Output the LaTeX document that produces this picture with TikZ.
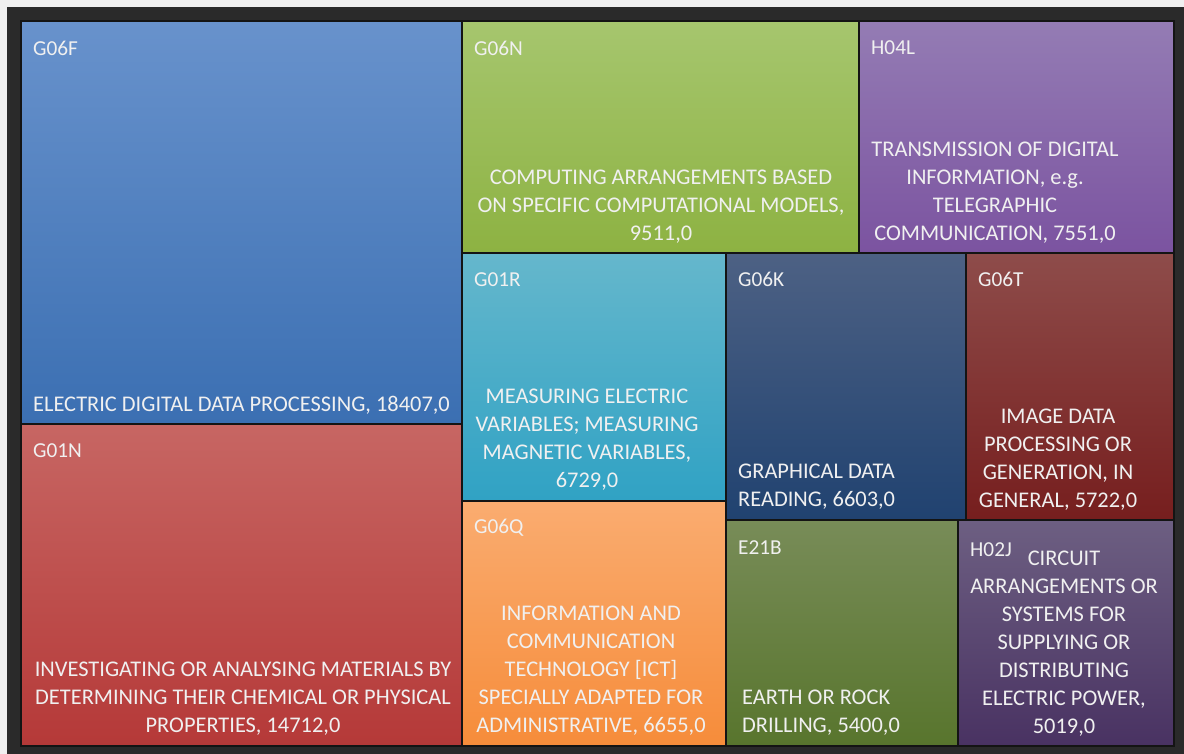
\documentclass[tikz,border=0pt]{standalone}
\usepackage{fontspec}
\setmainfont{Carlito}
\definecolor{lightbg}{RGB}{240,240,240}
\definecolor{framebg}{RGB}{42,42,42}
\definecolor{txt}{RGB}{240,240,240}
\definecolor{edge}{RGB}{20,20,20}
\definecolor{fT}{RGB}{104,146,204}\definecolor{fB}{RGB}{59,111,178}
\definecolor{nT}{RGB}{199,102,99}\definecolor{nB}{RGB}{181,57,56}
\definecolor{gnT}{RGB}{166,198,110}\definecolor{gnB}{RGB}{141,178,66}
\definecolor{hlT}{RGB}{148,124,180}\definecolor{hlB}{RGB}{123,83,160}
\definecolor{rT}{RGB}{101,183,204}\definecolor{rB}{RGB}{48,162,196}
\definecolor{qT}{RGB}{250,172,112}\definecolor{qB}{RGB}{246,140,58}
\definecolor{kT}{RGB}{77,97,132}\definecolor{kB}{RGB}{32,66,112}
\definecolor{tT}{RGB}{142,76,74}\definecolor{tB}{RGB}{118,30,30}
\definecolor{eT}{RGB}{120,140,88}\definecolor{eB}{RGB}{88,117,45}
\definecolor{jT}{RGB}{109,95,130}\definecolor{jB}{RGB}{73,50,98}
\begin{document}
\begin{tikzpicture}[x=1pt,y=-1pt,
  tile/.style={draw=edge, line width=1.3pt, inner sep=0pt, outer sep=0pt, anchor=north west},
  lab/.style={text=txt, font=\fontsize{21.3}{25}\selectfont, anchor=west, inner sep=0pt},
  body/.style={text=txt, font=\fontsize{22.4}{28}\selectfont, align=center, inner sep=0pt},
  bodyl/.style={text=txt, font=\fontsize{22.4}{28}\selectfont, align=left, anchor=west, inner sep=0pt}]
\useasboundingbox (0,0) rectangle (1184,754);
\fill[lightbg] (0,0) rectangle (1184,754);
\fill[framebg] (7,7) rectangle (1184,754);
% tiles
\node[tile, top color=fT, bottom color=fB, minimum width=441pt, minimum height=403pt] (g06f) at (21,21) {};
\node[tile, top color=nT, bottom color=nB, minimum width=441pt, minimum height=322pt] (g01n) at (21,424) {};
\node[tile, top color=gnT, bottom color=gnB, minimum width=397pt, minimum height=232pt] (g06n) at (462,21) {};
\node[tile, top color=hlT, bottom color=hlB, minimum width=315pt, minimum height=232pt] (h04l) at (859,21) {};
\node[tile, top color=rT, bottom color=rB, minimum width=264pt, minimum height=248pt] (g01r) at (462,253) {};
\node[tile, top color=qT, bottom color=qB, minimum width=264pt, minimum height=245pt] (g06q) at (462,501) {};
\node[tile, top color=kT, bottom color=kB, minimum width=240pt, minimum height=267pt] (g06k) at (726,253) {};
\node[tile, top color=tT, bottom color=tB, minimum width=208pt, minimum height=267pt] (g06t) at (966,253) {};
\node[tile, top color=eT, bottom color=eB, minimum width=232pt, minimum height=226pt] (e21b) at (726,520) {};
\node[tile, top color=jT, bottom color=jB, minimum width=216pt, minimum height=226pt] (h02j) at (958,520) {};
% codes
\node[lab] (l06f) at (33,48) {G06F};
\node[lab] (l01n) at (33,450.5) {G01N};
\node[lab] (l06n) at (474,48) {G06N};
\node[lab] (l04l) at (871,48) {H04L};
\node[lab] (l01r) at (474,279.5) {G01R};
\node[lab] (l06k) at (738,279.5) {G06K};
\node[lab] (l06t) at (978,279.5) {G06T};
\node[lab] (l06q) at (474,527.5) {G06Q};
\node[lab] (l21b) at (738,547.5) {E21B};
\node[lab] (l02j) at (970,549.5) {H02J};
% descriptions
\node[bodyl] (t06f) at (33,405) {ELECTRIC DIGITAL DATA PROCESSING, 18407,0};
\node[body] (t01n) at (243,699) {INVESTIGATING OR ANALYSING MATERIALS BY\\DETERMINING THEIR CHEMICAL OR PHYSICAL\\PROPERTIES, 14712,0};
\node[body] (t06n) at (661,207) {COMPUTING ARRANGEMENTS BASED\\ON SPECIFIC COMPUTATIONAL MODELS,\\9511,0};
\node[body] (t04l) at (995,193) {TRANSMISSION OF DIGITAL\\INFORMATION, e.g.\\TELEGRAPHIC\\COMMUNICATION, 7551,0};
\node[body] (t01r) at (587,440) {MEASURING ELECTRIC\\VARIABLES; MEASURING\\MAGNETIC VARIABLES,\\6729,0};
\node[bodyl] (t06k) at (738,487) {GRAPHICAL DATA\\READING, 6603,0};
\node[body] (t06t) at (1058,460) {IMAGE DATA\\PROCESSING OR\\GENERATION, IN\\GENERAL, 5722,0};
\node[body] (t06q) at (591,671) {INFORMATION AND\\COMMUNICATION\\TECHNOLOGY [ICT]\\SPECIALLY ADAPTED FOR\\ADMINISTRATIVE, 6655,0};
\node[bodyl] (t21b) at (742,713) {EARTH OR ROCK\\DRILLING, 5400,0};
\node[body] (t02j) at (1064,643.5) {CIRCUIT\\ARRANGEMENTS OR\\SYSTEMS FOR\\SUPPLYING OR\\DISTRIBUTING\\ELECTRIC POWER,\\5019,0};
\end{tikzpicture}
\end{document}
